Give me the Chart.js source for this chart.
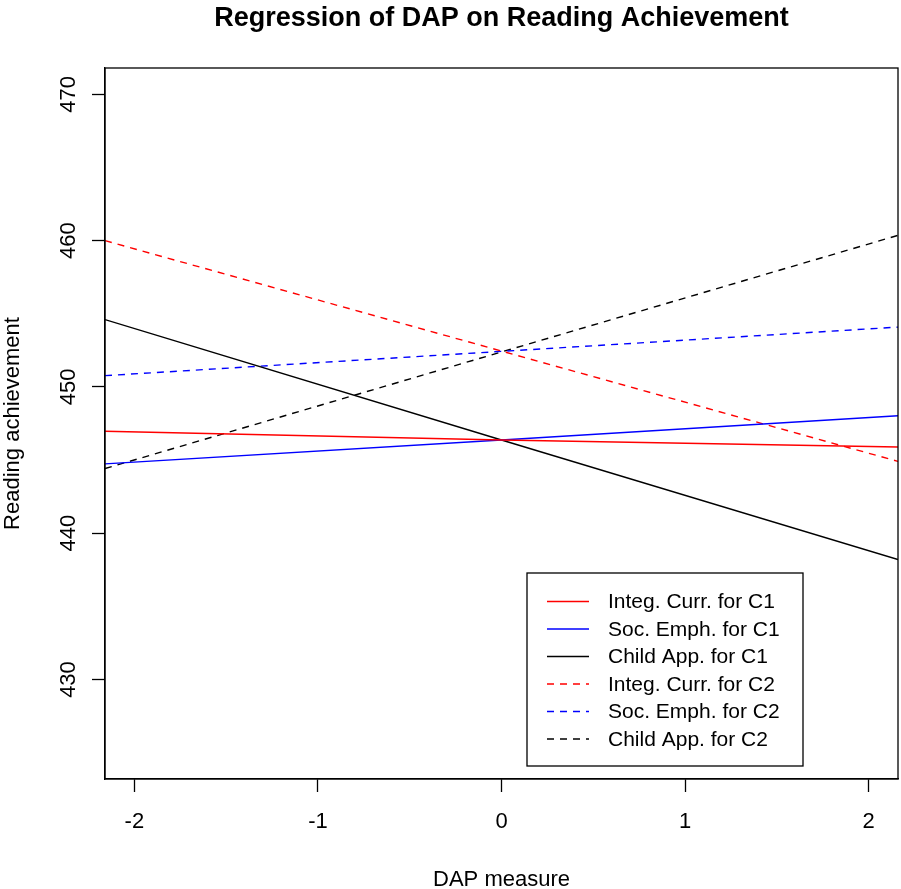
<!DOCTYPE html>
<html>
<head>
<meta charset="utf-8">
<script src="https://cdn.jsdelivr.net/npm/chart.js@4/dist/chart.umd.min.js"></script>
<style>
html,body{margin:0;padding:0;background:#fff;}
canvas{display:block;}
</style>
</head>
<body>
<canvas id="c" width="901" height="889"></canvas>
<script>
// ---- data ----
const xValues = [-2.16, 0, 2.16];
const integC1 = [446.97, 446.37, 445.89];
const socC1   = [444.74, 446.37, 448.03];
const childC1 = [454.60, 446.37, 438.20];
const integC2 = [460.00, 452.45, 444.91];
const socC2   = [450.77, 452.43, 454.09];
const childC2 = [444.42, 452.39, 460.36];
const seriesNames = ["Integ. Curr. for C1","Soc. Emph. for C1","Child App. for C1",
                     "Integ. Curr. for C2","Soc. Emph. for C2","Child App. for C2"];
const xTicks = [-2, -1, 0, 1, 2];
const yTicks = [430, 440, 450, 460, 470];
const xRange = [-2.16, 2.16];
const yRange = [423.2, 471.8];
const titleText = "Regression of DAP on Reading Achievement";
const xTitle = "DAP measure";
const yTitle = "Reading achievement";

const FONT = "'Liberation Sans', Arial, Helvetica, sans-serif";
const DASH = [7, 6];

function pts(ys){ return xValues.map((x,i)=>({x:x, y:ys[i]})); }
function ds(label, ys, color, dashed){
  return {label, data: pts(ys), borderColor: color, backgroundColor: color,
    borderWidth: 1.4, borderDash: dashed ? DASH : [], pointRadius: 0,
    showLine: true, fill: false, tension: 0};
}

const datasets = [
  ds(seriesNames[0], integC1, "#FF0000", false),
  ds(seriesNames[1], socC1, "#0000FF", false),
  ds(seriesNames[2], childC1, "#000000", false),
  ds(seriesNames[3], integC2, "#FF0000", true),
  ds(seriesNames[4], socC2, "#0000FF", true),
  ds(seriesNames[5], childC2, "#000000", true)
];

const decor = {
  id: 'decor',
  afterDraw(chart){
    const ctx = chart.ctx, a = chart.chartArea;
    const ys = chart.scales.y;
    ctx.save();
    // box
    ctx.strokeStyle = "#000"; ctx.lineWidth = 1.3; ctx.setLineDash([]);
    ctx.strokeRect(a.left, a.top, a.right - a.left, a.bottom - a.top);
    // y tick labels rotated
    ctx.fillStyle = "#000";
    ctx.font = "22px " + FONT;
    ctx.textAlign = "center"; ctx.textBaseline = "alphabetic";
    yTicks.forEach(v=>{
      const py = ys.getPixelForValue(v);
      ctx.save(); ctx.translate(75, py); ctx.rotate(-Math.PI/2);
      ctx.fillText(String(v), 0, 0); ctx.restore();
    });
    // y title
    ctx.save(); ctx.translate(19, (a.top + a.bottom)/2); ctx.rotate(-Math.PI/2);
    ctx.fillText(yTitle, 0, 0); ctx.restore();
    // x title
    ctx.fillText(xTitle, (a.left + a.right)/2, 886);
    // main title
    ctx.font = "bold 27px " + FONT;
    ctx.fillText(titleText, (a.left + a.right)/2, 26);
    // legend
    const lx = 527, ly = 573, lw = 276, lh = 193;
    ctx.fillStyle = "#fff"; ctx.fillRect(lx, ly, lw, lh);
    ctx.strokeStyle = "#000"; ctx.lineWidth = 1.3;
    ctx.strokeRect(lx, ly, lw, lh);
    ctx.font = "21px " + FONT; ctx.textAlign = "left"; ctx.textBaseline = "middle";
    chart.data.datasets.forEach((d,i)=>{
      const ry = 601.5 + i*27.5;
      ctx.strokeStyle = d.borderColor; ctx.lineWidth = 1.4;
      ctx.setLineDash(d.borderDash);
      ctx.beginPath(); ctx.moveTo(547, ry); ctx.lineTo(589, ry); ctx.stroke();
      ctx.setLineDash([]);
      ctx.fillStyle = "#000";
      ctx.fillText(d.label, 608, ry + 1);
    });
    ctx.restore();
  }
};

new Chart(document.getElementById('c'), {
  type: 'scatter',
  data: { datasets },
  options: {
    responsive: false, animation: false, devicePixelRatio: 1,
    layout: { padding: { left: 0, right: 3, top: 68, bottom: 0 } },
    plugins: { legend: { display: false }, title: { display: false }, tooltip: { enabled: false } },
    scales: {
      x: {
        type: 'linear', min: xRange[0], max: xRange[1],
        afterBuildTicks: s => { s.ticks = xTicks.map(v=>({value:v})); },
        afterFit: s => { s.height = 110; },
        grid: { drawOnChartArea: false, drawTicks: true, tickLength: 13, tickColor: "#000", tickWidth: 1.3 },
        border: { display: true, color: "#000", width: 1.3 },
        ticks: { color: "#000", font: { family: FONT, size: 22, lineHeight: 1.2 }, padding: 17,
                 maxRotation: 0, minRotation: 0, callback: v => String(v) }
      },
      y: {
        type: 'linear', min: yRange[0], max: yRange[1],
        afterBuildTicks: s => { s.ticks = yTicks.map(v=>({value:v})); },
        afterFit: s => { s.width = 105; },
        grid: { drawOnChartArea: false, drawTicks: true, tickLength: 13, tickColor: "#000", tickWidth: 1.3 },
        border: { display: true, color: "#000", width: 1.3 },
        ticks: { display: false }
      }
    }
  },
  plugins: [decor]
});
</script>
</body>
</html>
